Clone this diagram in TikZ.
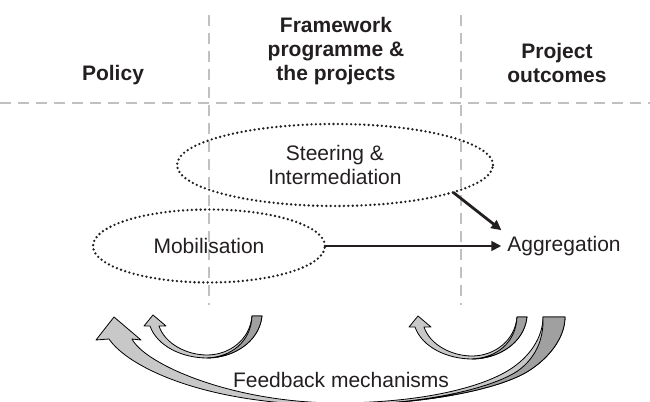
\documentclass[tikz,border=0pt]{standalone}
\usepackage{fontspec}
\setmainfont{Liberation Sans}
\usetikzlibrary{shapes.geometric,arrows.meta}

\begin{document}
\begin{tikzpicture}[x=0.5pt,y=0.5pt,
  every node/.style={font=\fontsize{10.5}{12}\selectfont,text=textColor,inner sep=0pt,outer sep=0pt},
  header/.style={font=\fontsize{10.5}{12}\selectfont\bfseries,align=center},
  sep/.style={draw=sepColor,line width=1pt,dash pattern=on 5.5pt off 3.5pt},
  blob/.style={ellipse,draw=textColor,line width=1.3pt,line cap=round,dash pattern=on 0pt off 2.2pt,align=center},
  flow/.style={draw=textColor,line width=1.4pt,-{Triangle[length=5pt,width=4.8pt]}},
  fb/.style={draw=black,line width=0.4pt,line join=round,fill=lightFill},
  fbback/.style={draw=black,line width=0.4pt,line join=round,fill=darkFill},
  pics/loopback/.style={code={
    \path[fb] (-57,32) .. controls (-50,12) and (-25,0) .. (0,0)
      .. controls (25,0) and (52,15) .. (55,42) -- (45,42)
      .. controls (43,18) and (22,3) .. (0,3)
      .. controls (-20,3) and (-42,14) .. (-48,32)
      -- (-41,32) -- (-54,43) -- (-63,32) -- cycle;
    \path[fbback] (0,0) .. controls (25,0) and (52,15) .. (55,42) -- (45,42)
      .. controls (44,16) and (24,1) .. (0,0) -- cycle;
  }}]
\definecolor{textColor}{RGB}{35,31,32}
\definecolor{sepColor}{RGB}{192,192,192}
\definecolor{lightFill}{RGB}{200,200,200}
\definecolor{darkFill}{RGB}{160,160,160}
\useasboundingbox (0,0) rectangle (650,402);
\clip (0,0) rectangle (650,402);

% column separators
\draw[sep] (0,299) -- (650,299);
\draw[sep] (209,387) -- (209,97);
\draw[sep] (461,387) -- (461,97);

% column headings
\node[header] (policy) at (113,327) {Policy};
\node[header] (framework) at (336,351) {Framework\\programme \&\\the projects};
\node[header] (outcomes) at (557,339) {Project\\outcomes};

% activities
\node[blob,minimum width=158pt,minimum height=41pt] (steering) at (335,237) {Steering \&\\Intermediation};
\node[blob,minimum width=116pt,minimum height=36.5pt] (mobil) at (209,156) {Mobilisation};
\node[inner sep=3pt] (aggr) at (564,156) {Aggregation};

\draw[flow] (mobil.east) -- (aggr.west);
\draw[flow] (steering.-13.5) -- (aggr.north west);

% feedback loops
\pic at (207,44) {loopback};
\pic at (472,43) {loopback};

% the long loop, its bottom runs off the page
\path[fb] (109,63) .. controls (128,35) and (205,-3) .. (335,-3)
  .. controls (420,-3) and (500,12) .. (530,32)
  .. controls (550,45) and (565,65) .. (565,85) -- (543,85)
  .. controls (543,65) and (530,45) .. (509,32)
  .. controls (480,14) and (420,-1) .. (335,-1)
  .. controls (230,0) and (145,38) .. (132,63)
  -- (141,62) -- (114,85) -- (96,62) -- cycle;
\path[fbback] (335,-3) .. controls (420,-3) and (500,12) .. (530,32)
  .. controls (550,45) and (565,65) .. (565,85) -- (543,85)
  .. controls (544,62) and (535,44) .. (519,32)
  .. controls (497,16) and (430,-3) .. (335,-3) -- cycle;

\node (feedback) at (341,22) {Feedback mechanisms};
\end{tikzpicture}
\end{document}
